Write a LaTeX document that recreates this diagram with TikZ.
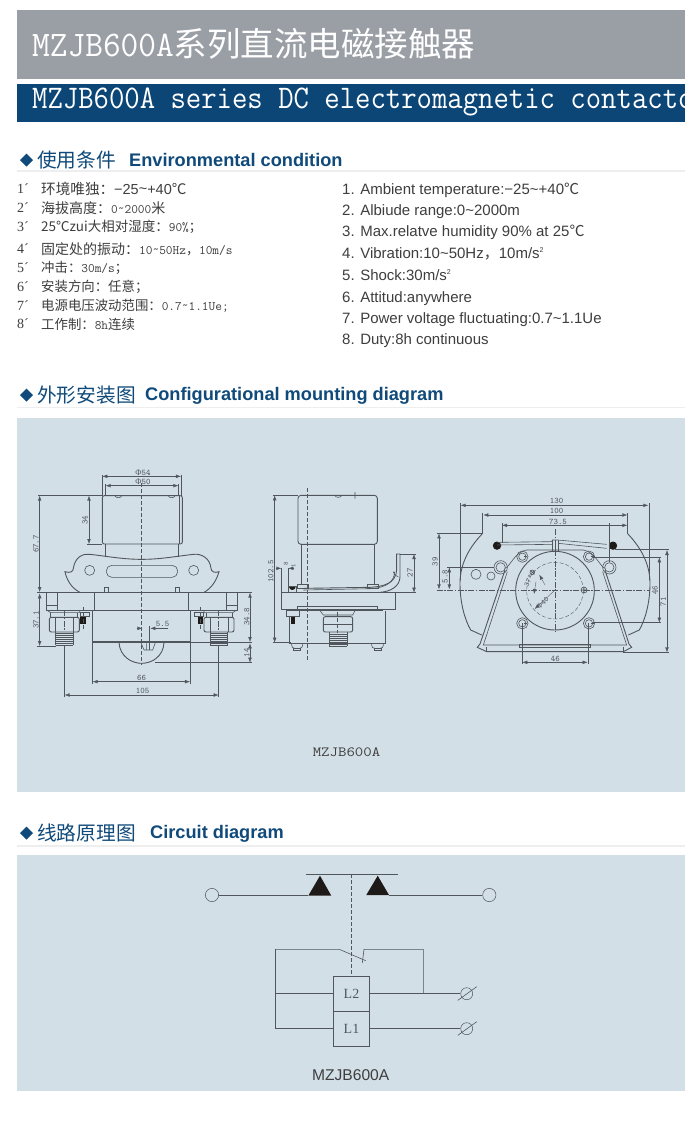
\documentclass[tikz,border=0pt]{standalone}
\usepackage{graphicx}
\usepackage{fontspec}
\setmainfont{Liberation Sans}
\newfontfamily\cjk{Noto Sans CJK SC}
\newfontfamily\lser{Liberation Serif}
\usetikzlibrary{arrows.meta}
\definecolor{bangray}{HTML}{9A9EA5}
\definecolor{banblue}{HTML}{0B4677}
\definecolor{panelc}{HTML}{D3DFE6}
\definecolor{headc}{HTML}{0F4A7A}
\definecolor{rulec}{HTML}{EEEEEE}
\definecolor{txtc}{HTML}{3E3E3E}
\definecolor{linec}{HTML}{50565C}
\definecolor{blk}{HTML}{1E1A18}
\newcommand{\fs}[1]{\fontsize{#1}{#1}\selectfont}
\newcommand{\tl}{\raisebox{1pt}{\textasciitilde}}
\tikzset{
  lab/.style={anchor=west,inner sep=0pt,text=txtc},
  rlab/.style={anchor=base west,inner sep=0pt,text=txtc,font=\fs{15}},
  numlab/.style={anchor=west,inner sep=0pt,text=txtc,font=\lser\fs{14}},
  headcn/.style={anchor=west,inner sep=0pt,text=headc,font=\cjk\fs{19.7}},
  headen/.style={anchor=base west,inner sep=0pt,text=headc,font=\bfseries\fs{18.2}},
  dia/.style={fill=headc,draw=none},
  ln/.style={draw=linec,line width=0.6pt},
  thk/.style={draw=linec,line width=0.9pt},
  dim/.style={draw=linec,line width=0.4pt,{Latex[length=5pt,width=3.6pt]}-{Latex[length=5pt,width=3.6pt]}},
  ext/.style={draw=linec,line width=0.35pt},
  ctr/.style={draw=linec,line width=0.4pt,dash pattern=on 4pt off 2pt},
  cdot/.style={draw=linec,line width=0.4pt,dash pattern=on 6pt off 1.5pt on 1.5pt off 1.5pt},
  dtx/.style={inner sep=0pt,text=linec,font=\ttfamily\fs{8.5}},
  cw/.style={draw=linec,line width=0.6pt},
  cbox/.style={draw=linec,line width=0.6pt,minimum width=36.3pt,minimum height=35pt,inner sep=0pt,outer sep=0pt,font=\lser\fs{14},text=linec},
  term/.style={circle,draw=linec,line width=0.5pt,minimum size=13.3pt,inner sep=0pt},
  oterm/.style={circle,draw=linec,line width=0.5pt,minimum size=12pt,inner sep=0pt},
  contact/.style={fill=blk,draw=none},
}
\begin{document}
\begin{tikzpicture}[x=1pt,y=-1pt]
\useasboundingbox (0,0) rectangle (700,1133);
\fill[white] (0,0) rectangle (700,1133);
% banners
\fill[bangray] (17,10) rectangle (685,79);
\fill[banblue] (17,83.5) rectangle (685,122);
\node[anchor=west,inner sep=0pt,text=white] (t1) at (32,44) {\scalebox{.955}[1]{\ttfamily\fs{36}MZJB600A}{\cjk\fs{33.5}系列直流电磁接触器}};
\begin{scope}
\clip (17,83.5) rectangle (685,122);
\node[anchor=west,inner sep=0pt,text=white] (t2) at (32,102) {\scalebox{.905}[1]{\ttfamily\fs{33}MZJB600A series DC electromagnetic contactor}};
\end{scope}
% heading 1
\fill[dia] (20,160) -- (26.5,153.5) -- (33,160) -- (26.5,166.5) -- cycle;
\node[headcn] (h1c) at (37,160) {使用条件};
\node[headen] (h1e) at (129,166.5) {Environmental condition};
\draw[rulec,line width=1.2pt] (17,171) -- (685,171);
% left list
\node[numlab] (n1) at (17,189) {1´}; \node[numlab] (n2) at (17,208) {2´};
\node[numlab] (n3) at (17,227) {3´}; \node[numlab] (n4) at (17,249) {4´};
\node[numlab] (n5) at (17,268) {5´}; \node[numlab] (n6) at (17,287) {6´};
\node[numlab] (n7) at (17,306) {7´}; \node[numlab] (n8) at (17,324) {8´};
\node[lab] (c1) at (41,189) {{\cjk\fs{14.6}环境唯独：}{\fs{14.5}−25\tl+40}{\cjk\fs{14.6}℃}};
\node[lab] (c2) at (41,208) {{\cjk\fs{14}海拔高度：}{\ttfamily\fs{13}0\tl2000}{\cjk\fs{14}米}};
\node[lab] (c3) at (41,227) {{\cjk\fs{13.5}25℃zui大相对湿度：}{\ttfamily\fs{13}90\%}{\cjk\fs{13}；}};
\node[lab] (c4) at (41,249) {{\cjk\fs{14}固定处的振动：}{\ttfamily\fs{13}10\tl50Hz}{\cjk\fs{13}，}{\ttfamily\fs{13}10m/s}};
\node[lab] (c5) at (41,268) {{\cjk\fs{13.4}冲击：}{\ttfamily\fs{13}30m/s}{\cjk\fs{13}；}};
\node[lab] (c6) at (41,287) {{\cjk\fs{13.4}安装方向：任意；}};
\node[lab] (c7) at (41,306) {{\cjk\fs{13.4}电源电压波动范围：}{\ttfamily\fs{13}0.7\tl1.1Ue;}};
\node[lab] (c8) at (41,324) {{\cjk\fs{13.4}工作制：}{\ttfamily\fs{13}8h}{\cjk\fs{13.4}连续}};
% right list
\node[rlab] (r1) at (342,194) {1. Ambient temperature:−25\textasciitilde+40{\cjk℃}};
\node[rlab] (r2) at (342,215) {2. Albiude range:0\textasciitilde2000m};
\node[rlab] (r3) at (342,236) {3. Max.relatve humidity 90\% at 25{\cjk℃}};
\node[rlab] (r4) at (342,258) {4. Vibration:10\textasciitilde50Hz{\cjk，}10m/s\raisebox{5.5pt}{\fs{7}2}};
\node[rlab] (r5) at (342,280) {5. Shock:30m/s\raisebox{5.5pt}{\fs{7}2}};
\node[rlab] (r6) at (342,302) {6. Attitud:anywhere};
\node[rlab] (r7) at (342,323) {7. Power voltage fluctuating:0.7\textasciitilde1.1Ue};
\node[rlab] (r8) at (342,344) {8. Duty:8h continuous};
% heading 2
\fill[dia] (20,395) -- (26.5,388.5) -- (33,395) -- (26.5,401.5) -- cycle;
\node[headcn] (h2c) at (37,395) {外形安装图};
\node[headen] (h2e) at (145,400) {Configurational mounting diagram};
\draw[rulec,line width=1.2pt] (17,407.5) -- (685,407.5);
\fill[panelc] (17,418) rectangle (685,792);
% heading 3
\fill[dia] (20,833) -- (26.5,826.5) -- (33,833) -- (26.5,839.5) -- cycle;
\node[headcn] (h3c) at (37,833) {线路原理图};
\node[headen] (h3e) at (150,838) {Circuit diagram};
\draw[rulec,line width=1.2pt] (17,846) -- (685,846);
\fill[panelc] (17,855) rectangle (685,1091);
% ---------------- front view
\begin{scope}[shift={(20,460)},x=0.33333pt,y=-0.33333pt]
\draw[thk,rounded corners=2pt] (247,252) -- (247,107) -- (487,107) -- (487,252) -- cycle;
\draw[ln] (478,107) -- (478,252);
\draw[ln] (285,107) arc (180:0:10 and 6) (445,107) arc (180:0:10 and 6);
\draw[ln] (255,252) -- (255,290) (476,252) -- (476,290);
\draw[thk] (180,397) .. controls (155,385) and (140,360) .. (135,335) .. controls (150,340) and (160,335) .. (160,325)
  .. controls (165,290) and (190,280) .. (210,283) .. controls (270,290) and (310,298) .. (365,298)
  .. controls (420,298) and (460,290) .. (520,283) .. controls (545,280) and (570,295) .. (573,325)
  .. controls (573,335) and (585,340) .. (597,335) .. controls (590,360) and (575,385) .. (552,397);
\draw[ln] (209,331) circle (15) (521,331) circle (15);
\draw[ln,rounded corners=5.5pt] (259,316) rectangle (473,352);
\draw[ln] (254,398) rectangle (266,382) (466,398) rectangle (478,382);
\draw[thk] (80,398) rectangle (652,450);
\draw[ln] (113,398) -- (113,450) (223,398) -- (223,450) (505,398) -- (505,450) (618,398) -- (618,450);
\draw[ln] (80,436) -- (113,436) (618,436) -- (652,436);
\draw[thk] (218,450) -- (218,548) -- (512,548) -- (512,450);
\draw[ln] (218,543) -- (512,543);
\draw[thk] (297,548) .. controls (300,590) and (335,610) .. (365,610) .. controls (395,610) and (430,590) .. (432,548);
\draw[ln] (363,548) -- (372,570) -- (398,570) -- (406,548) (380,550) -- (380,570);
\foreach \m in {0,1}{
  \begin{scope}[xshift={\m*243.33pt},xscale={1-2*\m}]
  \draw[ln] (80,450) -- (92,458) -- (178,458) -- (178,450);
  \draw[thk,rounded corners=2pt] (88,472) rectangle (178,516);
  \draw[ln] (105,472) -- (105,516) (160,472) -- (160,516) (92,458) -- (92,472) (172,458) -- (172,472);
  \foreach \y in {520,526,...,556}{\draw[ln] (107,\y) -- (160,\y);}
  \draw[ln] (107,516) -- (107,556) (160,516) -- (160,556);
  \draw[ln] (180,456) rectangle (207,468);
  \fill[blk] (181,470) rectangle (197,491);
  \draw[cdot] (134,450) -- (134,512);
  \draw[ctr] (190,440) -- (190,510);
  \end{scope}
}
\draw[ctr] (365,70) -- (365,615);
% dims
\draw[ext] (247,44) -- (247,107) (483,44) -- (483,107) (257,72) -- (257,107) (475,72) -- (475,107);
\draw[dim] (247,49) -- (483,49);
\draw[dim] (257,77) -- (475,77);
\node[dtx] (f54) at (369,38) {{\lser Φ}54};
\node[dtx] (f50) at (369,65) {{\lser Φ}50};
\draw[ext] (54,107) -- (247,107) (200,252) -- (247,252) (52,398) -- (80,398) (50,558) -- (107,558);
\draw[dim] (59,107) -- (59,396);
\draw[dim] (59,400) -- (59,558);
\draw[dim] (207,107) -- (207,252);
\node[dtx,rotate=90] (d677) at (48,252) {67.7};
\node[dtx,rotate=90] (d371) at (48,480) {37.1};
\node[dtx,rotate=90] (d34) at (195,180) {34};
\draw[ext] (652,398) -- (696,398) (512,548) -- (696,548) (405,608) -- (696,608);
\draw[dim] (690,398) -- (690,546);
\draw[dim] (690,550) -- (690,608);
\node[dtx,rotate=90] (d348) at (680,470) {34.8};
\node[dtx,rotate=90] (d14) at (680,578) {14};
\draw[-{Latex[length=5pt,width=3.6pt]},ext] (350,505) -- (367,505);
\draw[-{Latex[length=5pt,width=3.6pt]},ext] (445,505) -- (391,505);
\draw[ext] (388,498) -- (388,570);
\node[dtx] (d55) at (428,493) {5.5};
\draw[ext] (218,550) -- (218,671) (510,550) -- (510,671) (134,556) -- (134,711) (596,556) -- (596,711);
\draw[dim] (218,665) -- (510,665);
\draw[dim] (134,705) -- (596,705);
\node[dtx] (d66) at (365,655) {66};
\node[dtx] (d105) at (368,693) {105};
\end{scope}
% ---------------- side view
\begin{scope}[shift={(260,480)},x=0.33333pt,y=-0.33333pt]
\draw[thk,rounded corners=3pt] (114,193) -- (114,46) -- (352,46) -- (352,193) -- cycle;
\draw[ln] (225,46) arc (180:0:10 and 6) (285,36) -- (285,56);
\draw[ln] (124,193) -- (124,312) (342,193) -- (342,312);
\draw[ctr] (143,25) -- (143,540);
\draw[ln] (113,313) rectangle (146,325) (323,313) rectangle (356,325);
\draw[thk] (132,325) -- (330,322) .. controls (370,320) and (408,310) .. (410,270) -- (410,222) -- (420,222) -- (420,290) .. controls (420,320) and (390,335) .. (360,337);
\draw[ln] (130,330) -- (335,326) .. controls (375,322) and (402,310) .. (404,275);
\draw[ln] (400,275) arc (180:90:15 and 15);
\fill[blk] (87,320) arc (180:0:10) -- cycle;
\draw[ln] (85,320) rectangle (110,337);
\draw[thk] (63,337) rectangle (405,388);
\draw[ln] (112,388) -- (112,378) -- (353,378) -- (353,388);
\draw[line width=1pt,draw=linec] (112,392) -- (368,392);
\draw[ln] (78,392) rectangle (118,408);
\fill[blk] (92,410) rectangle (106,431);
\draw[thk] (88,408) -- (88,490) -- (375,490) -- (375,392);
\draw[ln] (180,392) -- (190,405) -- (278,405) -- (285,392);
\draw[thk,rounded corners=2pt] (190,410) rectangle (278,456);
\draw[ln] (190,432) -- (278,432) (208,456) -- (208,462) (262,456) -- (262,462);
\foreach \y in {462,468,...,498}{\draw[ln] (208,\y) -- (262,\y);}
\draw[ln] (208,462) -- (208,498) (262,462) -- (262,498);
\draw[ctr] (233,395) -- (233,460);
\draw[ln,rounded corners=3pt] (95,490) -- (95,505) -- (128,505) -- (128,490) (335,490) -- (335,505) -- (370,505) -- (370,490);
\draw[ln] (100,505) rectangle (122,511) (342,505) rectangle (364,511);
\draw[ext] (38,46) -- (114,46) (38,488) -- (92,488) (420,222) -- (468,222) (405,338) -- (468,338) (64,265) -- (64,337) (85,265) -- (85,320);
\draw[dim] (44,46) -- (44,488);
\draw[dim] (462,222) -- (462,338);
\node[dtx,rotate=90] (d1025) at (32,275) {102.5};
\node[dtx,rotate=90] (d27) at (450,278) {27};
\draw[-{Latex[length=5pt,width=3.6pt]},ext] (48,265) -- (64,265);
\draw[-{Latex[length=5pt,width=3.6pt]},ext] (102,265) -- (85,265);
\node[dtx,rotate=90,font=\ttfamily\fs{6.5}] (d8) at (78,252) {8};
\node[dtx,rotate=90,font=\ttfamily\fs{6.5}] (d1) at (100,256) {1};
\end{scope}
% ---------------- top view
\begin{scope}[shift={(430,490)},x=0.33333pt,y=-0.33333pt]
\draw[thk] (158,130) .. controls (110,180) and (90,230) .. (90,280) .. controls (90,340) and (105,390) .. (122,420) -- (155,435);
\draw[thk] (592,130) .. controls (640,180) and (660,230) .. (660,280) .. controls (660,340) and (645,390) .. (628,420) -- (595,435);
\draw[thk] (375,302) circle (118);
\draw[ctr] (375,302) circle (85);
\foreach \p in {(277,200),(477,200),(277,400),(477,400)}{
  \draw[ln] \p circle (17); \draw[ln] \p circle (11);
}
\draw[ln] (212,232) circle (20) (212,232) circle (14) (538,232) circle (20) (538,232) circle (14);
\draw[ln] (138,253) circle (15) (183,258) circle (12);
\fill[blk] (201,167) circle (12.5) (549,167) circle (12.5);
\draw[ln] (201,157) -- (365,155) -- (367,150) -- (382,150) -- (530,163) (201,165) -- (367,163) (385,152) -- (385,160) -- (530,175);
\draw[ln] (367,150) -- (367,185) (385,150) -- (385,185) (375,155) -- (375,185);
\draw[ln] (225,235) .. controls (240,230) and (255,185) .. (290,180) -- (460,180) .. controls (495,185) and (510,230) .. (525,235);
\draw[thk] (225,240) -- (150,462) -- (142,472) -- (170,485) -- (580,485) -- (605,472) -- (597,462) -- (525,240);
\draw[ln] (232,245) -- (160,465) -- (590,465) -- (518,245);
\draw[ln] (170,472) -- (170,485) (580,472) -- (580,485);
\draw[ln] (268,463) rectangle (480,473);
\draw[cdot] (375,118) -- (375,425);
\draw[cdot] (20,300) -- (660,300);
\draw[ln] (462,300) circle (9) (455,300) -- (469,300) (462,293) -- (462,307);
\draw[ln] (307,247) circle (7) (301,241) -- (313,253) (313,241) -- (301,253);
\foreach \p in {(283,200),(483,200),(283,400),(483,400)}{\draw[line width=1pt,draw=linec] \p -- ++(8,0);}
% dims
\draw[ext] (92,40) -- (92,270) (657,40) -- (657,270) (158,70) -- (158,130) (592,70) -- (592,130) (216,100) -- (216,160) (537,100) -- (537,215);
\draw[dim] (92,46) -- (655,46);
\draw[dim] (160,75) -- (592,75);
\draw[dim] (216,106) -- (592,106);
\node[dtx] (d130) at (380,34) {130};
\node[dtx] (d100) at (380,63) {100};
\node[dtx] (d735) at (384,97) {73.5};
\draw[ext] (20,130) -- (158,130) (50,232) -- (192,232);
\draw[dim] (27,130) -- (27,298);
\draw[dim] (58,232) -- (58,298);
\node[dtx,rotate=90] (d39) at (15,215) {39};
\node[dtx,rotate=90] (d58) at (45,260) {5.8};
\draw[ext] (490,202) -- (694,202) (490,398) -- (694,398) (555,178) -- (717,178) (580,487) -- (717,487);
\draw[dim] (688,202) -- (688,398);
\draw[dim] (711,180) -- (711,487);
\node[dtx,rotate=90] (d46r) at (675,300) {46};
\node[dtx,rotate=90] (d71) at (700,335) {71};
\draw[ext] (277,400) -- (277,523) (475,400) -- (475,523);
\draw[dim] (277,517) -- (473,517);
\node[dtx] (d46b) at (376,507) {46};
\draw[-{Latex[length=5pt,width=3.6pt]},ext] (375,300) -- (314,357);
\draw[-{Latex[length=5pt,width=3.6pt]},ext] (345,285) -- (328,254);
\draw[-{Latex[length=5pt,width=3.6pt]},ext] (318,275) -- (312,312);
\node[dtx,rotate=65,font=\ttfamily\fs{7.5}] (a37) at (296,272) {37°};
\node[dtx,rotate=45,font=\ttfamily\fs{7.5}] (f40) at (338,338) {{\lser Φ}40};
\end{scope}
\node[anchor=center,inner sep=0pt,text=txtc] (mz1) at (346.5,752) {\scalebox{1.17}[1]{\ttfamily\fs{14}MZJB600A}};
% ---------------- circuit
\coordinate (bl) at (305.7,874);
\coordinate (br) at (398.3,874);
\draw[cw,line width=0.8pt] (bl) -- (br);
\coordinate (dtop) at (351.7,874);
\node[term] (tl) at (212,895) {};
\node[term] (tr) at (489.3,895) {};
\coordinate (c1l) at (308.3,895);
\coordinate (c2r) at (389,895);
\fill[contact] (308.3,895.7) -- (320,875.7) -- (331.3,895.7) -- cycle;
\fill[contact] (366.3,895) -- (377.7,875.7) -- (389,895) -- cycle;
\draw[cw] (tl) -- (c1l);
\draw[cw] (c2r) -- (tr);
\node[cbox] (L2) at (351.5,993.7) {L2};
\node[cbox] (L1) at (351.5,1028.7) {L1};
\draw[cw,dash pattern=on 4pt off 2pt] (dtop) -- (L2.north -| dtop);
\coordinate (swa) at (339.3,949.3);
\coordinate (swb) at (365.7,960.7);
\coordinate (cl) at (275.7,949.3);
\coordinate (cr) at (423.3,949.3);
\coordinate (cj) at (423.3,993.7);
\draw[cw] (cl) -- (swa) -- (swb);
\draw[cw] (362.3,963) -- (364,949.3) -- (cr) -- (cj);
\draw[cw] (cl) -- (cl |- L1.west) -- (L1.west);
\draw[cw] (cl |- L2.west) -- (L2.west);
\node[oterm] (o2) at (466.7,993.7) {};
\node[oterm] (o1) at (466.7,1028.7) {};
\draw[cw] (L2.east) -- (o2.west);
\draw[cw] (L1.east) -- (o1.west);
\draw[ln] (457.7,1000.4) -- (476.7,986.7);
\draw[ln] (457.7,1035.4) -- (476.7,1021.7);
\node[inner sep=0pt,text=txtc,font=\fs{15.6}] (mz2) at (350.7,1075) {MZJB600A};
\end{tikzpicture}
\end{document}
